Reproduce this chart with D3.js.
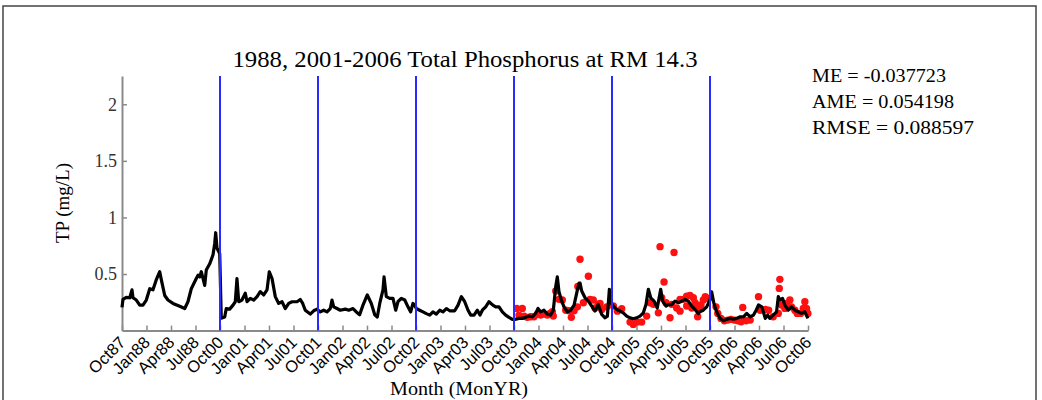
<!DOCTYPE html>
<html>
<head>
<meta charset="utf-8">
<script src="https://cdn.jsdelivr.net/npm/d3@7"></script>
<style>
  html, body { margin: 0; padding: 0; background: #fff; }
  svg { display: block; }
</style>
</head>
<body>
<svg id="chart" width="1042" height="400"></svg>
<script>
// Time is in decimal years; the axis skips from the end of WY1988 straight to WY2001.
const tickValues = [1987.75, 1988.0, 1988.25, 1988.5,
  2000.75, 2001.0, 2001.25, 2001.5, 2001.75, 2002.0, 2002.25, 2002.5,
  2002.75, 2003.0, 2003.25, 2003.5, 2003.75, 2004.0, 2004.25, 2004.5,
  2004.75, 2005.0, 2005.25, 2005.5, 2005.75, 2006.0, 2006.25, 2006.5, 2006.75];
const tickLabels = ["Oct87","Jan88","Apr88","Jul88","Oct00","Jan01","Apr01","Jul01",
  "Oct01","Jan02","Apr02","Jul02","Oct02","Jan03","Apr03","Jul03","Oct03","Jan04",
  "Apr04","Jul04","Oct04","Jan05","Apr05","Jul05","Oct05","Jan06","Apr06","Jul06","Oct06"];
const yTicks = [0.5, 1, 1.5, 2];

// Water-year boundaries marked with vertical lines
const yearBreaks = [2000.75, 2001.75, 2002.75, 2003.75, 2004.75, 2005.75];

// Modeled TP (mg/L): [decimal year, value]
const modeled = [
  [1987.750,0.205],[1987.760,0.276],[1987.794,0.294],[1987.829,0.29],[1987.852,0.36],
  [1987.862,0.29],[1987.896,0.27],[1987.931,0.225],[1987.964,0.225],[1987.998,0.27],
  [1988.033,0.37],[1988.066,0.36],[1988.100,0.45],[1988.135,0.52],[1988.151,0.45],
  [1988.186,0.31],[1988.219,0.27],[1988.270,0.24],[1988.339,0.215],[1988.390,0.195],
  [1988.423,0.255],[1988.457,0.37],[1988.508,0.46],[1988.526,0.49],[1988.543,0.475],
  [1988.559,0.52],[1988.577,0.46],[1988.594,0.40],[1988.610,0.535],[1988.645,0.59],
  [1988.679,0.67],[1988.696,0.77],[1988.706,0.865],[1988.719,0.73],[1988.730,0.71],
  [1988.747,0.68],
  [2000.763,0.11],[2000.798,0.12],[2000.814,0.195],[2000.849,0.19],[2000.883,0.225],
  [2000.906,0.255],[2000.923,0.46],[2000.941,0.255],[2000.974,0.27],[2001.008,0.33],
  [2001.026,0.255],[2001.059,0.285],[2001.094,0.27],[2001.128,0.30],[2001.161,0.345],
  [2001.196,0.315],[2001.230,0.36],[2001.253,0.52],[2001.281,0.46],[2001.314,0.30],
  [2001.349,0.24],[2001.383,0.255],[2001.416,0.195],[2001.451,0.24],[2001.485,0.255],
  [2001.536,0.255],[2001.569,0.275],[2001.594,0.24],[2001.620,0.18],[2001.671,0.146],
  [2001.706,0.175],[2001.740,0.19],[2001.773,0.165],[2001.808,0.18],[2001.842,0.165],
  [2001.875,0.195],[2001.893,0.27],[2001.910,0.21],[2001.944,0.195],[2001.977,0.18],
  [2002.029,0.19],[2002.063,0.18],[2002.107,0.195],[2002.141,0.165],[2002.175,0.14],
  [2002.209,0.225],[2002.253,0.315],[2002.294,0.24],[2002.329,0.14],[2002.355,0.12],
  [2002.380,0.24],[2002.413,0.36],[2002.424,0.475],[2002.447,0.30],[2002.482,0.285],
  [2002.515,0.285],[2002.543,0.18],[2002.566,0.255],[2002.600,0.285],[2002.635,0.27],
  [2002.668,0.21],[2002.696,0.165],[2002.719,0.24],[2002.737,0.225],[2002.753,0.195],
  [2002.787,0.18],[2002.821,0.165],[2002.855,0.15],[2002.890,0.137],[2002.923,0.165],
  [2002.957,0.146],[2002.992,0.18],[2003.026,0.165],[2003.060,0.195],[2003.094,0.175],
  [2003.145,0.175],[2003.179,0.225],[2003.213,0.30],[2003.247,0.255],[2003.281,0.18],
  [2003.309,0.137],[2003.342,0.137],[2003.376,0.18],[2003.403,0.137],[2003.427,0.18],
  [2003.461,0.21],[2003.495,0.255],[2003.534,0.225],[2003.563,0.21],[2003.597,0.21],
  [2003.631,0.165],[2003.665,0.137],[2003.699,0.117],[2003.733,0.10],[2003.768,0.10],
  [2003.801,0.108],[2003.835,0.108],[2003.869,0.117],[2003.903,0.128],[2003.937,0.122],
  [2003.971,0.152],[2003.995,0.195],[2004.022,0.165],[2004.056,0.18],[2004.090,0.146],
  [2004.124,0.137],[2004.151,0.18],[2004.176,0.39],[2004.192,0.475],[2004.209,0.345],
  [2004.233,0.27],[2004.260,0.21],[2004.294,0.165],[2004.329,0.18],[2004.363,0.225],
  [2004.397,0.36],[2004.414,0.42],[2004.424,0.42],[2004.441,0.35],[2004.475,0.29],
  [2004.509,0.26],[2004.543,0.217],[2004.577,0.173],[2004.610,0.23],[2004.645,0.143],
  [2004.679,0.113],[2004.703,0.128],[2004.723,0.365],[2004.738,0.246],[2004.764,0.217],
  [2004.799,0.187],[2004.832,0.173],[2004.865,0.157],[2004.900,0.128],[2004.934,0.113],
  [2004.967,0.104],[2005.002,0.113],[2005.036,0.128],[2005.070,0.157],[2005.097,0.23],
  [2005.121,0.365],[2005.145,0.29],[2005.179,0.26],[2005.212,0.20],[2005.247,0.365],
  [2005.267,0.26],[2005.301,0.217],[2005.325,0.23],[2005.359,0.23],[2005.393,0.26],
  [2005.427,0.246],[2005.461,0.26],[2005.495,0.276],[2005.529,0.26],[2005.563,0.217],
  [2005.597,0.187],[2005.630,0.15],[2005.646,0.166],[2005.681,0.18],[2005.716,0.21],
  [2005.750,0.27],[2005.767,0.343],[2005.790,0.24],[2005.818,0.166],[2005.852,0.108],
  [2005.887,0.087],[2005.920,0.099],[2005.954,0.108],[2005.989,0.102],[2006.023,0.108],
  [2006.057,0.122],[2006.091,0.122],[2006.125,0.152],[2006.160,0.122],[2006.194,0.137],
  [2006.221,0.18],[2006.245,0.226],[2006.279,0.21],[2006.314,0.108],[2006.338,0.137],
  [2006.360,0.108],[2006.395,0.137],[2006.429,0.166],[2006.447,0.30],[2006.463,0.27],
  [2006.490,0.285],[2006.514,0.226],[2006.548,0.18],[2006.582,0.21],[2006.616,0.18],
  [2006.650,0.166],[2006.684,0.152],[2006.718,0.166],[2006.749,0.108]
];

// Observed TP samples (mg/L): [decimal year, value]
const observed = [
  [2003.778,0.196],[2003.801,0.137],[2003.835,0.196],[2003.852,0.128],[2003.886,0.117],
  [2003.920,0.122],[2003.954,0.122],[2003.988,0.146],[2004.022,0.137],[2004.056,0.146],
  [2004.090,0.137],[2004.117,0.152],[2004.141,0.166],[2004.151,0.128],[2004.176,0.35],
  [2004.209,0.276],[2004.243,0.27],[2004.278,0.18],[2004.311,0.175],[2004.335,0.117],
  [2004.363,0.175],[2004.397,0.21],[2004.401,0.39],[2004.424,0.63],[2004.458,0.246],
  [2004.509,0.48],[2004.526,0.276],[2004.559,0.27],[2004.577,0.20],[2004.610,0.232],
  [2004.628,0.24],[2004.645,0.187],[2004.696,0.21],[2004.764,0.217],[2004.805,0.172],
  [2004.849,0.193],[2004.934,0.075],[2004.967,0.055],[2005.008,0.075],[2005.053,0.075],
  [2005.104,0.128],[2005.138,0.246],[2005.172,0.232],[2005.223,0.157],[2005.240,0.742],
  [2005.257,0.29],[2005.281,0.43],[2005.301,0.246],[2005.342,0.113],[2005.359,0.232],
  [2005.383,0.69],[2005.410,0.20],[2005.444,0.276],[2005.444,0.172],[2005.478,0.276],
  [2005.512,0.305],[2005.512,0.217],[2005.546,0.31],[2005.563,0.20],[2005.580,0.29],
  [2005.597,0.246],[2005.624,0.122],[2005.630,0.217],[2005.640,0.196],[2005.658,0.226],
  [2005.682,0.27],[2005.702,0.30],[2005.726,0.285],[2005.811,0.21],[2005.829,0.152],
  [2005.862,0.108],[2005.897,0.087],[2005.931,0.093],[2005.964,0.099],[2005.998,0.093],
  [2006.033,0.087],[2006.067,0.078],[2006.084,0.205],[2006.118,0.087],[2006.160,0.093],
  [2006.245,0.30],[2006.262,0.18],[2006.314,0.187],[2006.348,0.18],[2006.395,0.122],
  [2006.447,0.152],[2006.457,0.373],[2006.463,0.453],[2006.480,0.226],[2006.514,0.196],
  [2006.531,0.24],[2006.565,0.27],[2006.582,0.21],[2006.616,0.18],[2006.640,0.152],
  [2006.674,0.152],[2006.702,0.196],[2006.718,0.255],[2006.735,0.196],[2006.749,0.152]
];

const stats = ["ME = -0.037723", "AME = 0.054198", "RMSE = 0.088597"];
const statWidths = [134, 142, 162];

const svg = d3.select("#chart");
const serif = "'Liberation Serif', 'Times New Roman', serif";

// outer frame
svg.append("path")
  .attr("d", "M3,400 V6 H1036 V400")
  .attr("fill", "none").attr("stroke", "#444").attr("stroke-width", 1.5);

// piecewise scale: WY1988 then WY2001-2006, with the gap collapsed
const x = d3.scaleLinear()
  .domain([1987.75, 1988.75, 2000.75, 2006.75])
  .range([122, 220, 220, 808]);
const y = d3.scaleLinear().domain([0, 2.25]).range([330.6, 76]);

const axisColor = "#8a8a8a";

// x axis
const gx = svg.append("g").attr("transform", `translate(0,${y(0)})`)
  .call(d3.axisBottom(x).tickValues(tickValues)
    .tickFormat((d, i) => tickLabels[i]).tickSizeInner(-5).tickSizeOuter(0));
gx.select(".domain").attr("stroke", axisColor).attr("stroke-width", 2);
gx.selectAll(".tick line").attr("stroke", axisColor).attr("stroke-width", 1.5);
gx.selectAll(".tick text")
  .attr("x", 0).attr("y", 0).attr("dy", null)
  .attr("text-anchor", "end")
  .attr("transform", "translate(4,13) rotate(-45)")
  .attr("fill", "#000")
  .style("font-family", "'Liberation Sans', Arial, sans-serif")
  .style("font-size", "16.5px");

// y axis
const gy = svg.append("g").attr("transform", `translate(${x(1987.75)},0)`)
  .call(d3.axisLeft(y).tickValues(yTicks).tickFormat(d3.format("")).tickSizeInner(-5).tickSizeOuter(0));
gy.select(".domain").attr("stroke", axisColor).attr("stroke-width", 2);
gy.selectAll(".tick line").attr("stroke", axisColor).attr("stroke-width", 1.5);
gy.selectAll(".tick text")
  .attr("x", -5).attr("fill", "#333")
  .style("font-family", serif)
  .style("font-size", "18px");

// observed samples
svg.append("g").selectAll("circle").data(observed).join("circle")
  .attr("cx", d => x(d[0])).attr("cy", d => y(d[1])).attr("r", 3.7)
  .attr("fill", "#ff1010");

// modeled series
svg.append("path").datum(modeled)
  .attr("d", d3.line().x(d => x(d[0])).y(d => y(d[1])))
  .attr("fill", "none").attr("stroke", "#000").attr("stroke-width", 3.2)
  .attr("stroke-linejoin", "round");

// water-year separators
svg.append("g").selectAll("line").data(yearBreaks).join("line")
  .attr("x1", d => x(d)).attr("x2", d => x(d))
  .attr("y1", y(2.25)).attr("y2", y(0))
  .attr("stroke", "#2a2aff").attr("stroke-width", 2);

// titles
svg.append("text").attr("x", 465).attr("y", 67).attr("text-anchor", "middle")
  .attr("textLength", 465).attr("lengthAdjust", "spacingAndGlyphs")
  .style("font-family", serif)
  .style("font-size", "23px").text("1988, 2001-2006 Total Phosphorus at RM 14.3");

svg.append("text").attr("transform", "translate(69,203) rotate(-90)")
  .attr("text-anchor", "middle")
  .style("font-family", serif)
  .style("font-size", "19px").text("TP (mg/L)");

svg.append("text").attr("x", 459).attr("y", 395).attr("text-anchor", "middle")
  .attr("textLength", 138).attr("lengthAdjust", "spacingAndGlyphs")
  .style("font-family", serif)
  .style("font-size", "19px").text("Month (MonYR)");

// error statistics
svg.append("g").selectAll("text").data(stats).join("text")
  .attr("x", 812).attr("y", (d, i) => 82 + i * 26)
  .attr("textLength", (d, i) => statWidths[i]).attr("lengthAdjust", "spacingAndGlyphs")
  .style("font-family", serif)
  .style("font-size", "19px").text(d => d);
</script>
</body>
</html>
